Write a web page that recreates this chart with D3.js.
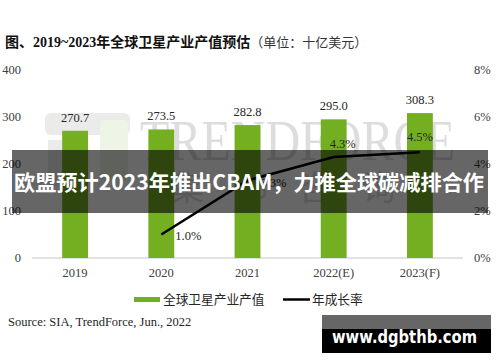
<!DOCTYPE html>
<html>
<head>
<meta charset="utf-8">
<script src="https://cdn.jsdelivr.net/npm/d3@7"></script>
<style>
    html, body { margin: 0; padding: 0; background: #fff; }
    svg { display: block; }
</style>
</head>
<body>
<div id="chart"></div>
<script>
// Datos
const years = ['2019', '2020', '2021', '2022(E)', '2023(F)'];
const outputValues = [270.7, 273.5, 282.8, 295.0, 308.3];
const growthRates = [null, 1.0, 3.3, 4.3, 4.5];
const leftTicks = [0, 100, 200, 300, 400];
const rightTicks = [0, 2, 4, 6, 8];

const width = 500, height = 362;
const margin = { t: 70, r: 37, b: 104, l: 32 };
const serif = '"Liberation Serif", "Times New Roman", serif';
const cjk = '"Noto Sans CJK SC", "Noto Sans", sans-serif';
const green = '#74ae21';

const svg = d3.select('#chart')
    .append('svg')
    .attr('width', width)
    .attr('height', height);

// Escalas
const x = d3.scaleBand().domain(years).range([margin.l, width - margin.r]).paddingInner(0.7).paddingOuter(0.35);
const y = d3.scaleLinear().domain([0, 400]).range([height - margin.b, margin.t]);
const y2 = d3.scaleLinear().domain([0, 8]).range([height - margin.b, margin.t]);

// Titulo
const title = svg.append('text')
    .attr('x', 5).attr('y', 47)
    .attr('font-size', 14)
    .attr('fill', '#111');
title.append('tspan').attr('font-family', serif + ', ' + cjk).attr('font-weight', 'bold')
    .text('图、2019~2023年全球卫星产业产值预估');
title.append('tspan').attr('font-family', cjk).attr('font-size', 13).attr('fill', '#333')
    .text('（单位：十亿美元）');

// Marca de agua
const wm = svg.append('g').attr('opacity', 0.16);
wm.append('rect').attr('x', 45).attr('y', 113).attr('width', 85).attr('height', 22).attr('rx', 6).attr('fill', '#888');
wm.append('rect').attr('x', 100).attr('y', 120).attr('width', 28).attr('height', 60).attr('rx', 4).attr('fill', '#9bc86a');
wm.append('rect').attr('x', 48).attr('y', 140).attr('width', 40).attr('height', 45).attr('fill', '#888');
wm.append('text').attr('x', 140).attr('y', 160)
    .attr('font-family', serif).attr('font-size', 56)
    .attr('textLength', 315).attr('lengthAdjust', 'spacingAndGlyphs')
    .attr('fill', '#333').text('TRENDFORCE');
wm.append('text').attr('x', 170).attr('y', 200)
    .attr('font-family', cjk).attr('font-size', 34).attr('letter-spacing', 30)
    .attr('fill', '#333').text('集邦咨询');

// Linea base
svg.append('line')
    .attr('x1', margin.l).attr('x2', width - margin.r)
    .attr('y1', y(0)).attr('y2', y(0))
    .attr('stroke', '#d9d9d9').attr('stroke-width', 1.5);

// Ejes (solo etiquetas)
svg.append('g').selectAll('text').data(leftTicks).join('text')
    .attr('x', 21).attr('y', d => y(d) + 4)
    .attr('text-anchor', 'end')
    .attr('font-family', serif).attr('font-size', 12.5).attr('fill', '#404040')
    .text(d => d);
svg.append('g').selectAll('text').data(rightTicks).join('text')
    .attr('x', 474).attr('y', d => y2(d) + 4)
    .attr('font-family', serif).attr('font-size', 12.5).attr('fill', '#404040')
    .text(d => d + '%');
svg.append('g').selectAll('text').data(years).join('text')
    .attr('x', d => x(d) + x.bandwidth() / 2).attr('y', 277)
    .attr('text-anchor', 'middle')
    .attr('font-family', serif).attr('font-size', 12.5).attr('fill', '#404040')
    .text(d => d);

// Barras
svg.append('g').selectAll('rect').data(outputValues).join('rect')
    .attr('x', (d, i) => x(years[i]))
    .attr('y', d => y(d))
    .attr('width', x.bandwidth())
    .attr('height', d => y(0) - y(d))
    .attr('fill', green);
svg.append('g').selectAll('text').data(outputValues).join('text')
    .attr('x', (d, i) => x(years[i]) + x.bandwidth() / 2)
    .attr('y', d => y(d) - 9)
    .attr('text-anchor', 'middle')
    .attr('font-family', serif).attr('font-size', 12.5).attr('fill', '#262626')
    .text(d => d.toFixed(1));

// Linea de crecimiento
const growthPts = growthRates.map((v, i) => ({ year: years[i], v })).filter(d => d.v !== null);
const line = d3.line()
    .x(d => x(d.year) + x.bandwidth() / 2)
    .y(d => y2(d.v));
svg.append('path')
    .datum(growthPts)
    .attr('d', line)
    .attr('fill', 'none')
    .attr('stroke', '#000')
    .attr('stroke-width', 2.5);
const gOff = [[27, 5], [26, 7], [9, -9], [0, -11]];
svg.append('g').selectAll('text').data(growthPts).join('text')
    .attr('x', (d, i) => x(d.year) + x.bandwidth() / 2 + gOff[i][0])
    .attr('y', (d, i) => y2(d.v) + gOff[i][1])
    .attr('text-anchor', 'middle')
    .attr('font-family', serif).attr('font-size', 12.5).attr('fill', '#262626')
    .text(d => d.v.toFixed(1) + '%');

// Leyenda
svg.append('rect').attr('x', 134).attr('y', 297).attr('width', 26).attr('height', 5).attr('fill', green);
svg.append('text').attr('x', 163).attr('y', 304)
    .attr('font-family', cjk).attr('font-size', 12.7).attr('fill', '#262626')
    .text('全球卫星产业产值');
svg.append('line').attr('x1', 283).attr('x2', 310).attr('y1', 299.5).attr('y2', 299.5)
    .attr('stroke', '#000').attr('stroke-width', 2.5);
svg.append('text').attr('x', 312).attr('y', 304)
    .attr('font-family', cjk).attr('font-size', 12.7).attr('fill', '#262626')
    .text('年成长率');

// Fuente
svg.append('text').attr('x', 8).attr('y', 326)
    .attr('font-family', serif).attr('font-size', 12.5).attr('fill', '#262626')
    .text('Source: SIA, TrendForce, Jun., 2022');

// Banda superpuesta
svg.append('rect').attr('x', 12).attr('y', 150).attr('width', 476).attr('height', 63)
    .attr('fill', '#000').attr('opacity', 0.6);
svg.append('text').attr('x', 14).attr('y', 190)
    .attr('font-family', cjk).attr('font-weight', 'bold').attr('font-size', 21)
    .attr('textLength', 470).attr('lengthAdjust', 'spacingAndGlyphs')
    .attr('fill', '#fff')
    .text('欧盟预计2023年推出CBAM，力推全球碳减排合作');

// Caja web
svg.append('rect').attr('x', 322).attr('y', 315).attr('width', 169).attr('height', 15).attr('fill', '#666');
svg.append('rect').attr('x', 322).attr('y', 329).attr('width', 169).attr('height', 24).attr('fill', '#000');
svg.append('text').attr('x', 332).attr('y', 343)
    .attr('font-family', '"DejaVu Sans", sans-serif').attr('font-weight', 'bold').attr('font-size', 17)
    .attr('textLength', 145).attr('lengthAdjust', 'spacingAndGlyphs')
    .attr('fill', '#fff')
    .text('www.dgbthb.com');
</script>
</body>
</html>
